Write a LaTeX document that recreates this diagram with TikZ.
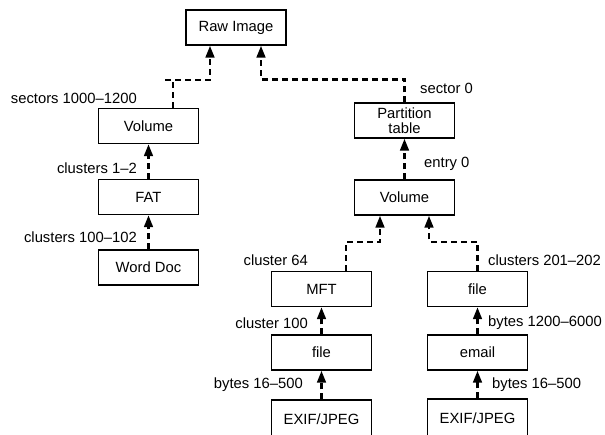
\documentclass[tikz,border=0pt]{standalone}
\usepackage{fontspec}
\setmainfont{Liberation Sans}
\usepackage{tikz}
\usetikzlibrary{arrows.meta}

\begin{document}
\begin{tikzpicture}[x=1pt,y=-1pt,
    every node/.style={font=\fontsize{14.8}{17}\selectfont},
    box/.style={draw,line width=1.2pt,minimum width=100pt,minimum height=35pt,inner sep=0pt,align=center},
    lbl/.style={inner sep=0pt},
    link/.style={line width=2.8pt,dash pattern=on 6pt off 4pt,-{Triangle[length=12pt,width=8.5pt]}}]
    \useasboundingbox (0,0) rectangle (605,434);
    % boxes
    \node[box] (raw) at (236,27.5) {Raw Image};
    \node[box] (vol1) at (148.5,126) {Volume};
    \node[box] (fat) at (148.5,197) {FAT};
    \node[box] (word) at (148.5,267.5) {Word Doc};
    \node[box] (pt) at (404.5,120.5) {Partition\\[-2pt]table};
    \node[box] (vol2) at (404.5,197.5) {Volume};
    \node[box] (mft) at (321.5,289) {MFT};
    \node[box] (file1) at (477.5,289) {file};
    \node[box] (file2) at (321.5,352.5) {file};
    \node[box] (email) at (477.5,352.5) {email};
    \node[box,minimum height=38pt] (exif1) at (321.5,419) {EXIF/JPEG};
    \node[box,minimum height=38pt] (exif2) at (477.5,418) {EXIF/JPEG};
    % links
    \draw[link] ([xshift=24.5pt]vol1.north) |- ++(-10,-28) -| ([xshift=-26pt]raw.south);
    \draw[link] (pt.north) |- ++(-10,-23) -| ([xshift=25pt]raw.south);
    \draw[link] (fat) -- (vol1);
    \draw[link] (word) -- (fat);
    \draw[link] (vol2) -- (pt);
    \draw[link] ([xshift=24.5pt]mft.north) |- ++(10,-29) -| ([xshift=-24.5pt]vol2.south);
    \draw[link] (file1.north) |- ++(-10,-29) -| ([xshift=24.5pt]vol2.south);
    \draw[link] (file2) -- (mft);
    \draw[link] (email) -- (file1);
    \draw[link] (exif1) -- (file2);
    \draw[link] (exif2) -- (email);
    % labels
    \node[lbl,anchor=east] (l1) at (137,98) {sectors 1000--1200};
    \node[lbl,anchor=east] (l2) at (137,168) {clusters 1--2};
    \node[lbl,anchor=east] (l3) at (137,237) {clusters 100--102};
    \node[lbl,anchor=west] (l4) at (420,88) {sector 0};
    \node[lbl,anchor=west] (l5) at (424,164) {entry 0};
    \node[lbl,anchor=east] (l6) at (308,260) {cluster 64};
    \node[lbl,anchor=west] (l7) at (488,260) {clusters 201--202};
    \node[lbl,anchor=east] (l8) at (308,323) {cluster 100};
    \node[lbl,anchor=west] (l9) at (488,323) {bytes 1200--6000};
    \node[lbl,anchor=east] (l10) at (303,385) {bytes 16--500};
    \node[lbl,anchor=west] (l11) at (492,385) {bytes 16--500};
\end{tikzpicture}
\end{document}
